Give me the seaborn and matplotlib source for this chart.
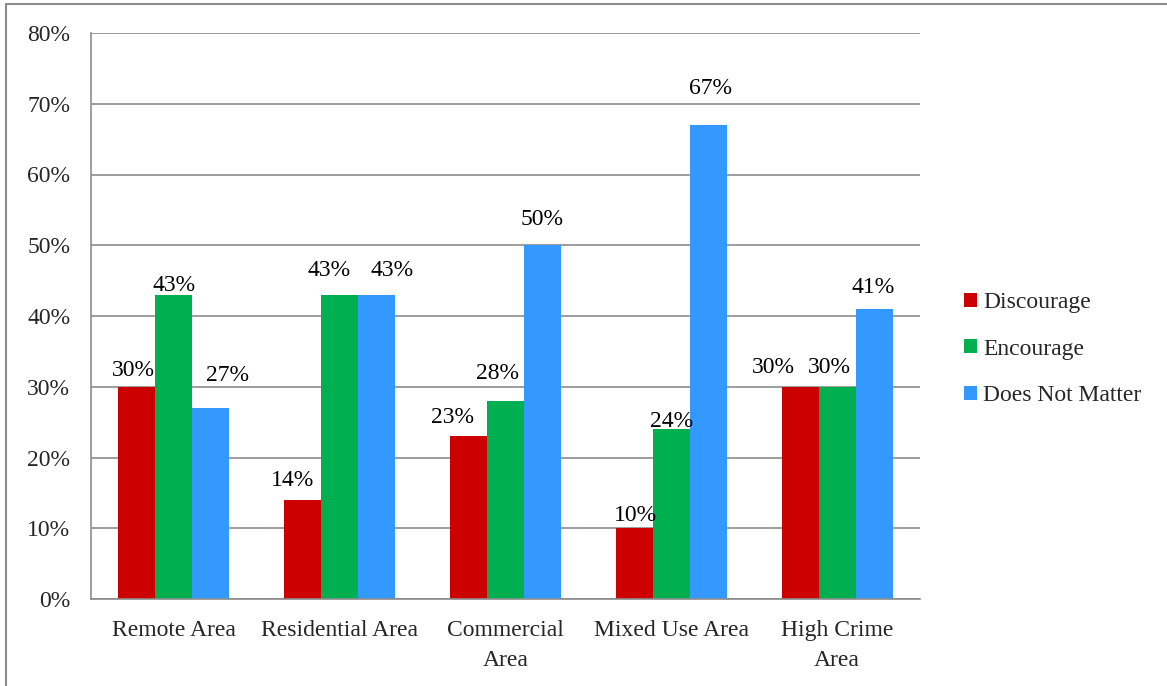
import matplotlib
matplotlib.use("Agg")
import matplotlib.pyplot as plt
import seaborn as sns
import pandas as pd
from matplotlib.lines import Line2D
from matplotlib.patches import Patch
from matplotlib.ticker import MultipleLocator, FuncFormatter

categories = ["Remote Area", "Residential Area", "Commercial\nArea", "Mixed Use Area", "High Crime\nArea"]
series = ["Discourage", "Encourage", "Does Not Matter"]
discourage = [30, 14, 23, 10, 30]
encourage = [43, 43, 28, 24, 30]
does_not_matter = [27, 43, 50, 67, 41]
colors = ["#CC0000", "#00B050", "#3399FF"]

# label placement nudges (pixels: dx, dy above bar top), per series, per category
label_nudges = [
    [(-3, 16), (-10, 19), (-16, 19), (1, 13), (-27, 19)],
    [(0, 9), (-11, 24), (-8, 27), (0, 8), (-8, 19)],
    [(17, 32), (15, 24), (0, 26), (2, 36), (-1, 21)],
]

rows = []
for vals, s in zip([discourage, encourage, does_not_matter], series):
    for c, v in zip(categories, vals):
        rows.append({"Area": c, "Response": s, "Value": v})
df = pd.DataFrame(rows)

sns.set_theme(style="white")
plt.rcParams["font.family"] = ["Liberation Serif", "DejaVu Serif"]

FS = 17
fig = plt.figure(figsize=(11.67, 6.86), dpi=100)
ax = fig.add_axes([91/1167, 1-599/686, (920-91)/1167, (599-33)/686])

sns.barplot(data=df, x="Area", y="Value", hue="Response", palette=colors,
            width=0.67, gap=0, ax=ax, legend=False, saturation=1, edgecolor="none")

ax.set_ylim(0, 80)
ax.set_xlim(-0.5, len(categories) - 0.5)
ax.yaxis.set_major_locator(MultipleLocator(10))
ax.yaxis.set_major_formatter(FuncFormatter(lambda v, p: f"{int(v)}%"))
ax.grid(axis="y", color="#8c8c8c", linewidth=1.2)
ax.set_axisbelow(True)
ax.set_xlabel("")
ax.set_ylabel("")
for s in ["top", "right"]:
    ax.spines[s].set_visible(False)
for s in ["left", "bottom"]:
    ax.spines[s].set_color("#8c8c8c")
    ax.spines[s].set_linewidth(1.2)

ax.set_xticks([i for i in range(len(categories))])
ax.set_xticklabels(categories, fontsize=FS, linespacing=1.55)
ax.tick_params(axis="x", length=0, pad=15)
ax.set_xticks([i - 0.5 for i in range(len(categories) + 1)], minor=True)
ax.tick_params(axis="x", which="minor", length=7, color="#8c8c8c", width=1.2, direction="out")
ax.tick_params(axis="y", length=7, color="#8c8c8c", width=1.2, direction="out", labelsize=FS, pad=8)

px2pt = 72 / fig.dpi
for cont, nudges in zip(ax.containers, label_nudges):
    for bar, (dx, dy) in zip(cont, nudges):
        h = bar.get_height()
        ax.annotate(f"{int(round(h))}%", (bar.get_x() + bar.get_width() / 2, h),
                    xytext=(dx * px2pt, dy * px2pt), textcoords="offset points",
                    ha="center", va="center", fontsize=FS, color="black")

handles = [Patch(facecolor=c, edgecolor="none") for c in colors]
fig.legend(handles, series, loc="upper left", bbox_to_anchor=(955/1167, 1-283/686),
           frameon=False, fontsize=FS, handlelength=0.55, handleheight=0.55,
           handletextpad=0.25, labelspacing=1.07, borderaxespad=0)

fig.add_artist(Line2D([6/1167, 6/1167], [0, 1-4/686], color="#8c8c8c", linewidth=1.5, transform=fig.transFigure))
fig.add_artist(Line2D([6/1167, 1], [1-4/686, 1-4/686], color="#8c8c8c", linewidth=1.5, transform=fig.transFigure))

fig.savefig("out.png", dpi=100)
